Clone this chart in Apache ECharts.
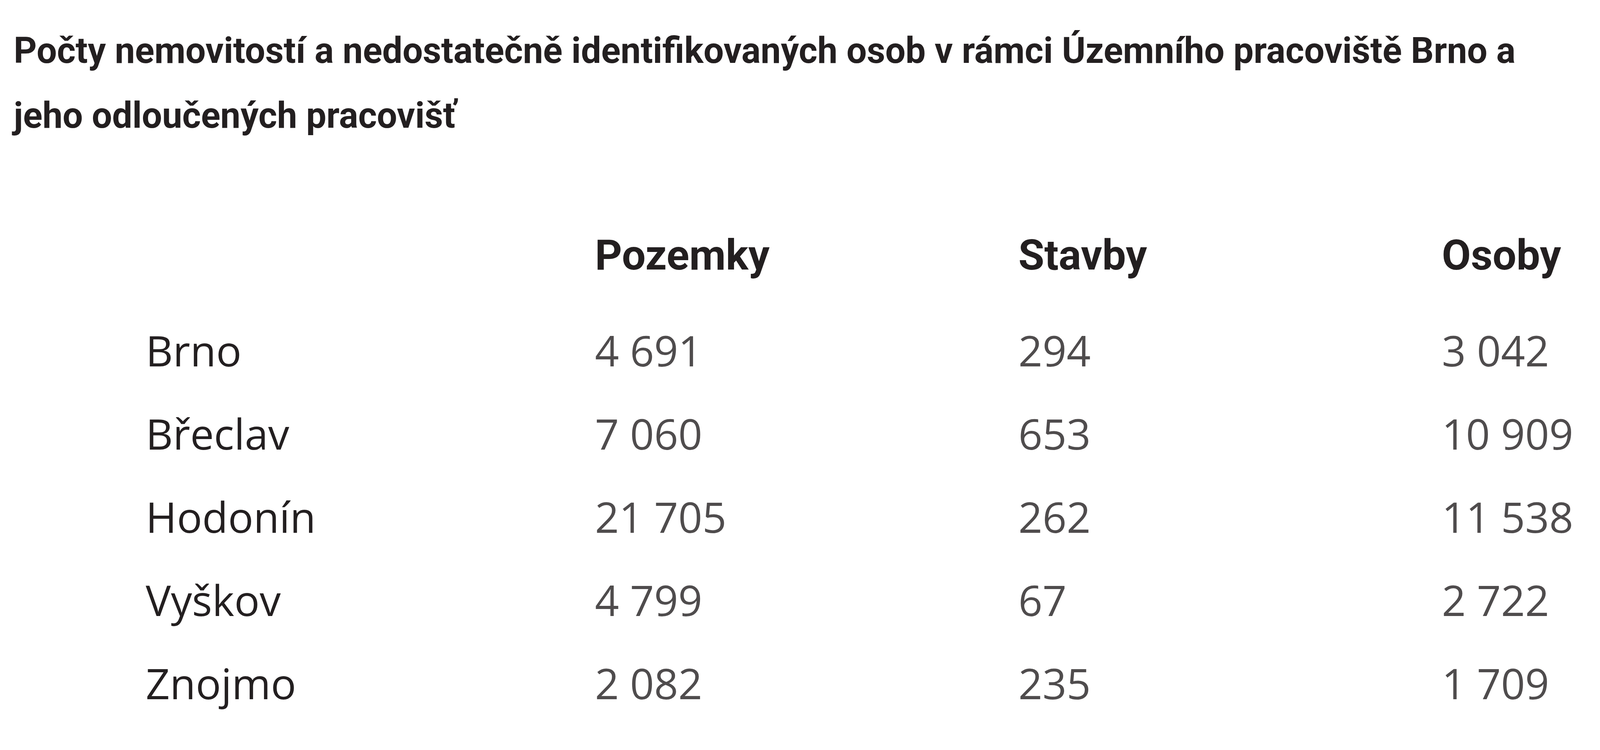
<!DOCTYPE html>
<html><head><meta charset="utf-8">
<script src="https://cdn.jsdelivr.net/npm/echarts@6/dist/echarts.min.js"></script>
<style>html,body{margin:0;padding:0;background:#fff}#c{width:4335px;height:1920px}</style>
</head><body><div id="c"></div>
<script>
const titleText = 'Počty nemovitostí a nedostatečně identifikovaných osob v rámci Územního pracoviště Brno a\njeho odloučených pracovišť';
const columns = ['Pozemky', 'Stavby', 'Osoby'];
const rows = ['Brno', 'Břeclav', 'Hodonín', 'Vyškov', 'Znojmo'];
const pozemky = [4691, 7060, 21705, 4799, 2082];
const stavby = [294, 653, 262, 67, 235];
const osoby = [3042, 10909, 11538, 2722, 1709];

const cols = [pozemky, stavby, osoby];
const data = [];
cols.forEach((arr, ci) => arr.forEach((v, ri) => data.push([columns[ci], rows[ri], v])));
const fmt = v => String(v).replace(/\B(?=(\d{3})+(?!\d))/g, ' ');
const bodyFont = "'Open Sans','Noto Sans',sans-serif";
const headFont = "'Liberation Sans Narrow','Roboto',sans-serif";

const chart = echarts.init(document.getElementById('c'));
chart.setOption({
  backgroundColor: '#fff',
  title: {
    text: titleText, left: 30, top: 50,
    textStyle: { fontFamily: headFont, fontWeight: 'bold', fontSize: 92, lineHeight: 166, color: '#231f20' }
  },
  grid: { left: 1523, right: 4335 - 3691, top: 907, bottom: 1920 - 1759, outerBoundsMode: 'none', containLabel: false },
  xAxis: {
    type: 'category', data: columns, position: 'top', boundaryGap: false,
    axisLine: { show: false }, axisTick: { show: false }, splitLine: { show: false },
    axisLabel: { margin: 190, align: 'left', fontFamily: headFont, fontWeight: 'bold', fontSize: 108, color: '#231f20' }
  },
  yAxis: {
    type: 'category', data: rows, inverse: true, boundaryGap: false,
    axisLine: { show: false }, axisTick: { show: false }, splitLine: { show: false },
    axisLabel: { margin: 1150, align: 'left', fontFamily: bodyFont, fontSize: 108, color: '#231f20' }
  },
  series: [{
    type: 'scatter', data: data, symbolSize: 1, itemStyle: { color: 'rgba(0,0,0,0)' }, silent: true,
    label: {
      show: true, position: 'inside', align: 'left', verticalAlign: 'middle',
      formatter: p => fmt(p.value[2]),
      fontFamily: bodyFont, fontSize: 108, color: '#231f20'
    }
  }]
});
</script></body></html>
